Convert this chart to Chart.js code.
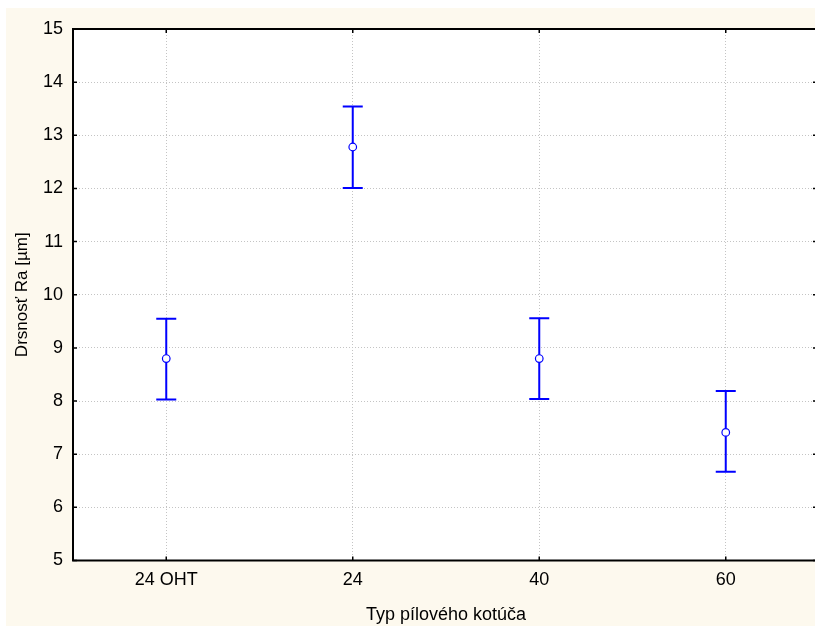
<!DOCTYPE html>
<html lang="sk">
<head>
  <meta charset="UTF-8" />
  <title>Drsnosť Ra podľa typu pílového kotúča</title>
  <script src="https://cdn.jsdelivr.net/npm/chart.js"></script>
  <style>
    html, body { margin: 0; padding: 0; background: #ffffff; overflow: hidden; }
    .figure {
      position: absolute;
      left: 6px;
      top: 8px;
      width: 809px;
      height: 618px;
      overflow: hidden;
      background: #fdf9ee;
    }
  </style>
</head>
<body>
  <div class="figure">
    <canvas id="raChart" width="830" height="618"></canvas>
  </div>

  <script>
    // data
    const categories = ['24 OHT', '24', '40', '60'];
    const means = [8.80, 12.78, 8.80, 7.41];
    const lower = [8.03, 12.01, 8.04, 6.67];
    const upper = [9.55, 13.54, 9.56, 8.19];

    const blue = '#0000ff';

    // white plot area + frame + inward ticks + error bars
    const framePlugin = {
      id: 'frame',
      beforeDraw(chart) {
        const { ctx, chartArea: a } = chart;
        ctx.save();
        ctx.fillStyle = '#ffffff';
        ctx.fillRect(a.left, a.top, a.right - a.left, a.bottom - a.top);
        ctx.restore();
      },
      beforeDatasetsDraw(chart) {
        const { ctx, chartArea: a, scales } = chart;
        ctx.save();
        ctx.strokeStyle = '#000000';
        ctx.lineWidth = 1.5;
        // short ticks pointing into the plot
        scales.y.ticks.forEach((t, i) => {
          const y = scales.y.getPixelForTick(i);
          ctx.beginPath();
          ctx.moveTo(a.left, y); ctx.lineTo(a.left + 4, y);
          ctx.moveTo(a.right, y); ctx.lineTo(a.right - 6, y);
          ctx.stroke();
        });
        categories.forEach((c, i) => {
          const x = scales.x.getPixelForValue(i);
          ctx.beginPath();
          ctx.moveTo(x, a.bottom); ctx.lineTo(x, a.bottom - 4);
          ctx.moveTo(x, a.top); ctx.lineTo(x, a.top + 4);
          ctx.stroke();
        });
        // left, top and bottom axis lines (right side falls outside the figure)
        ctx.lineWidth = 2;
        ctx.beginPath();
        ctx.moveTo(a.right + 2, a.top);
        ctx.lineTo(a.left, a.top);
        ctx.lineTo(a.left, a.bottom);
        ctx.lineTo(a.right + 2, a.bottom);
        ctx.stroke();

        // error bars
        ctx.strokeStyle = blue;
        ctx.lineWidth = 2;
        categories.forEach((c, i) => {
          const x = scales.x.getPixelForValue(i);
          const yLo = scales.y.getPixelForValue(lower[i]);
          const yHi = scales.y.getPixelForValue(upper[i]);
          ctx.beginPath();
          ctx.moveTo(x, yLo); ctx.lineTo(x, yHi);
          ctx.moveTo(x - 10, yLo); ctx.lineTo(x + 10, yLo);
          ctx.moveTo(x - 10, yHi); ctx.lineTo(x + 10, yHi);
          ctx.stroke();
        });
        ctx.restore();
      }
    };

    const ctx = document.getElementById('raChart').getContext('2d');

    new Chart(ctx, {
      type: 'line',
      data: {
        labels: categories,
        datasets: [{
          data: means,
          showLine: false,
          pointRadius: 3.8,
          pointHoverRadius: 3.8,
          pointBackgroundColor: '#ffffff',
          pointBorderColor: blue,
          pointBorderWidth: 1.2
        }]
      },
      options: {
        responsive: false,
        animation: false,
        events: [],
        layout: { padding: { top: 21, right: 17, left: 0, bottom: 0 } },
        plugins: {
          legend: { display: false },
          tooltip: { enabled: false }
        },
        scales: {
          x: {
            type: 'category',
            offset: true,
            grid: { offset: false, color: '#c4c4c4', drawTicks: false },
            border: { display: false, dash: [1, 2] },
            ticks: {
              padding: 9,
              color: '#000000',
              font: { family: 'Liberation Sans, Arial, sans-serif', size: 18 }
            },
            title: {
              display: true,
              text: 'Typ pílového kotúča',
              color: '#000000',
              padding: { top: 0, bottom: 0 },
              font: { family: 'Liberation Sans, Arial, sans-serif', size: 18 }
            },
            afterFit(scale) { scale.height = 65.5; }
          },
          y: {
            min: 5,
            max: 15,
            ticks: {
              stepSize: 1,
              padding: 10,
              color: '#000000',
              font: { family: 'Liberation Sans, Arial, sans-serif', size: 18 }
            },
            grid: { color: '#c4c4c4', drawTicks: false },
            border: { display: false, dash: [1, 2] },
            title: {
              display: true,
              text: 'Drsnosť Ra [µm]',
              color: '#000000',
              padding: { top: 6, bottom: 0 },
              font: { family: 'Liberation Sans, Arial, sans-serif', size: 17 }
            },
            afterFit(scale) { scale.width = 67; }
          }
        }
      },
      plugins: [framePlugin]
    });
  </script>
</body>
</html>
